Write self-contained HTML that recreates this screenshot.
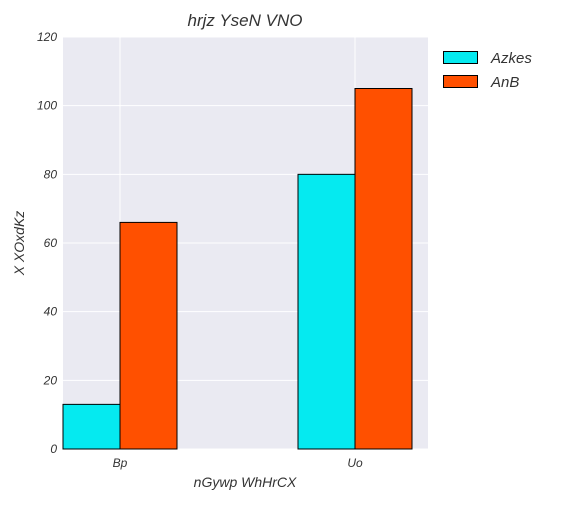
<!DOCTYPE html>
<html><head><meta charset="utf-8"><style>
body{margin:0;background:#fff;}
svg text{font-family:"Liberation Sans","DejaVu Sans",sans-serif;font-style:italic;fill:#333;}
</style></head><body>
<svg width="576" height="504" xmlns="http://www.w3.org/2000/svg">
<g id="plot"></g>
</svg>
<script>
const categories=["Bp","Uo"];
const seriesNames=["Azkes","AnB"];
const azkesValues=[13,80];
const anbValues=[66,105];
const yTicks=[0,20,40,60,80,100,120];
const colors=["#05eaf0","#ff5000"];
const svg=document.querySelector('svg');
const NS='http://www.w3.org/2000/svg';
const L=63,R=428,T=37,B=449;
const y=v=>B-(v/120)*(B-T);
const x=i=>120+i*235;
const bw=57;
function el(tag,attrs,parent){const e=document.createElementNS(NS,tag);for(const k in attrs)e.setAttribute(k,attrs[k]);(parent||svg).appendChild(e);return e;}
const bg=el('rect',{x:L,y:T,width:R-L,height:B-T,fill:'#eaeaf2'});


yTicks.forEach(t=>{
 const g=el('line',{x1:L,x2:R,y1:y(t),y2:y(t),stroke:'#fff','stroke-width':1});
 
 
 const tx=el('text',{x:L-6,y:y(t)+4,'text-anchor':'end','font-size':12});
 tx.textContent=t;
 
 
});
categories.forEach((c,i)=>{
 const g=el('line',{x1:x(i),x2:x(i),y1:T,y2:B,stroke:'#fff','stroke-width':1});
 
 
 const tx=el('text',{x:x(i),y:B+18,'text-anchor':'middle','font-size':12});
 tx.textContent=c;
 
 
});
[azkesValues,anbValues].forEach((vals,s)=>{
 vals.forEach((v,i)=>{
  const bx=s===0?x(i)-bw:x(i);
  const r=el('rect',{x:bx,y:y(v),width:bw,height:B-y(v),fill:colors[s],stroke:'#000','stroke-width':1});
  
  
 });
});
seriesNames.forEach((n,s)=>{
 const r=el('rect',{x:443.5,y:51.5+s*24,width:34,height:12,fill:colors[s],stroke:'#000','stroke-width':1});
 
 
 const t=el('text',{x:491,y:63+s*24,'font-size':15});
 t.textContent=n;
 
 
});
const title=el('text',{x:245,y:26,'text-anchor':'middle','font-size':17});
title.textContent='hrjz YseN VNO';


const xt=el('text',{x:245,y:487,'text-anchor':'middle','font-size':14});
xt.textContent='nGywp WhHrCX';


const yt=el('text',{x:0,y:0,'text-anchor':'middle','font-size':14,transform:'translate(24,243) rotate(-90)'});
yt.textContent='X XOxdKz';


</script>
</body></html>
